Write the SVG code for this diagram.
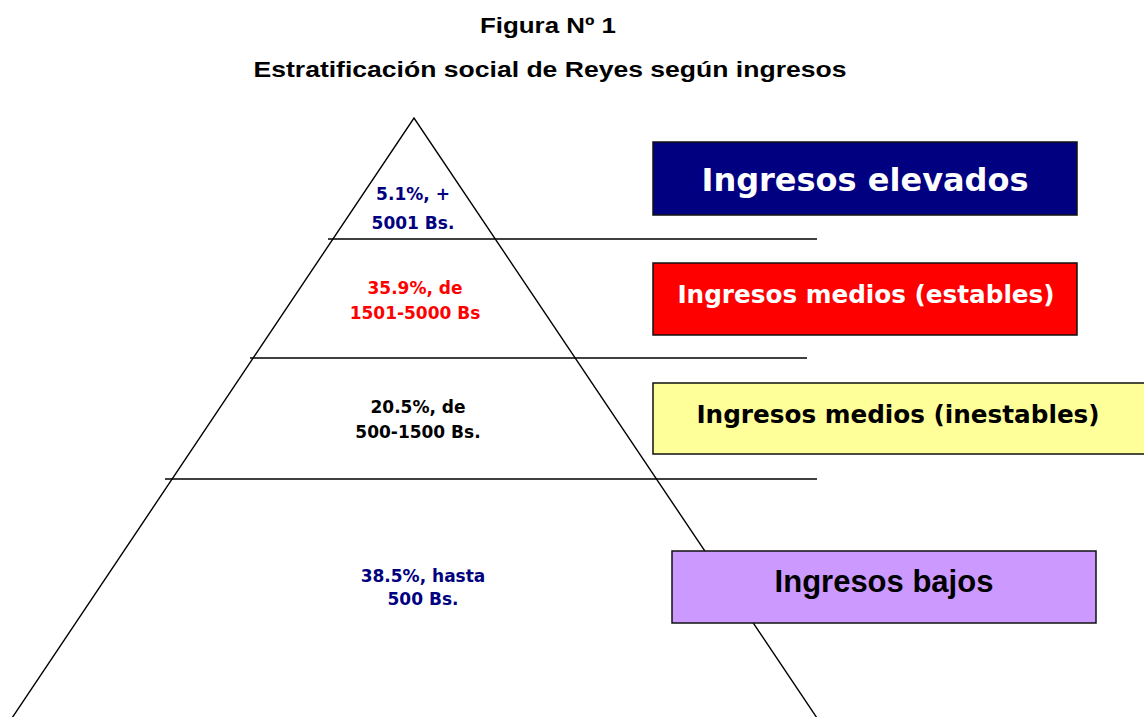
<svg xmlns="http://www.w3.org/2000/svg" width="1144" height="717" viewBox="0 0 1144 717">
<style>
.title{font-family:"Liberation Sans",Arial,sans-serif;font-weight:bold;font-size:22px;fill:#000;text-anchor:middle}
.lbl{font-family:"DejaVu Sans",sans-serif;font-weight:bold;font-size:17px;text-anchor:middle}
.box{stroke:#111;stroke-width:1.5}
.btxt{font-family:"DejaVu Sans",sans-serif;font-weight:bold;text-anchor:middle}
.ln{stroke:#000;stroke-width:1.4;fill:none}
</style>
<rect width="1144" height="717" fill="#fff"/>
<text class="title" x="548" y="33" textLength="136" lengthAdjust="spacingAndGlyphs">Figura Nº 1</text>
<text class="title" x="550" y="77" textLength="593" lengthAdjust="spacingAndGlyphs">Estratificación social de Reyes según ingresos</text>
<g id="connectors">
<path class="ln" d="M12,718 L414,118 L817,718"/>
<line class="ln" x1="328" y1="239" x2="817" y2="239"/>
<line class="ln" x1="250" y1="358" x2="807" y2="358"/>
<line class="ln" x1="165" y1="479" x2="817" y2="479"/>
</g>
<g id="lvl1">
<text class="lbl" x="413" y="200" fill="#000080">5.1%, +</text>
<text class="lbl" x="413" y="229" fill="#000080">5001 Bs.</text>
</g>
<g id="lvl2">
<text class="lbl" x="415" y="294" fill="#ff0000">35.9%, de</text>
<text class="lbl" x="415" y="319" fill="#ff0000">1501-5000 Bs</text>
</g>
<g id="lvl3">
<text class="lbl" x="418" y="413" fill="#000">20.5%, de</text>
<text class="lbl" x="418" y="438" fill="#000">500-1500 Bs.</text>
</g>
<g id="lvl4">
<text class="lbl" x="423" y="582" fill="#000080">38.5%, hasta</text>
<text class="lbl" x="423" y="605" fill="#000080">500 Bs.</text>
</g>
<g id="box-elevados">
<rect class="box" x="653" y="142" width="424" height="73" fill="#000080"/>
<text class="btxt" x="865" y="191" font-size="32" fill="#fff">Ingresos elevados</text>
</g>
<g id="box-estables">
<rect class="box" x="653" y="263" width="424" height="72" fill="#ff0000"/>
<text class="btxt" x="866" y="303" font-size="24.7" fill="#fff">Ingresos medios (estables)</text>
</g>
<g id="box-inestables">
<rect class="box" x="653" y="383" width="495" height="71" fill="#ffff99"/>
<text class="btxt" x="898" y="423" font-size="24.7" fill="#000">Ingresos medios (inestables)</text>
</g>
<g id="box-bajos">
<rect class="box" x="672" y="551" width="424" height="72" fill="#cc99ff"/>
<text x="884" y="592" font-family="Liberation Sans, Arial, sans-serif" font-weight="bold" font-size="31" text-anchor="middle" fill="#000">Ingresos bajos</text>
</g>
</svg>
